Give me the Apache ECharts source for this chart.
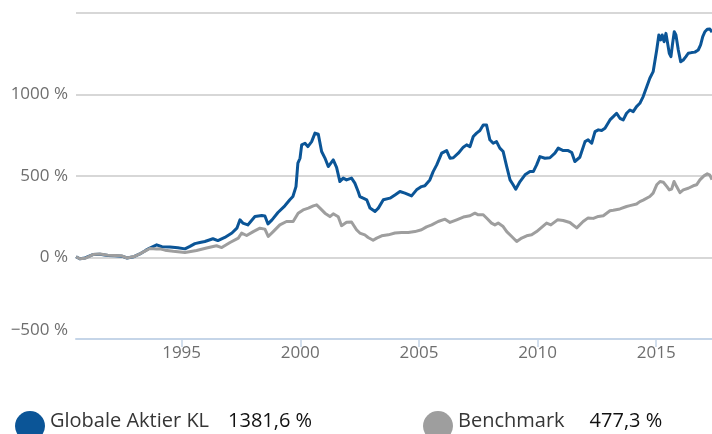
<!DOCTYPE html>
<html>
<head>
<meta charset="utf-8">
<style>
  html, body { margin: 0; padding: 0; background: #ffffff; }
  #chart { width: 712px; height: 434px; }
</style>
<script src="https://cdn.jsdelivr.net/npm/echarts@6/dist/echarts.min.js"></script>
</head>
<body>
<div id="chart"></div>
<script>
// Cumulative performance in %, dates as decimal years
const fundName = 'Globale Aktier KL';
const benchName = 'Benchmark';

const fundYears = [
  1990.55, 1990.71, 1990.93, 1991.26, 1991.56, 1991.89, 1992.19, 1992.48, 1992.70, 1992.99,
  1993.24, 1993.50, 1993.66, 1993.95, 1994.17, 1994.51, 1994.84, 1995.14, 1995.35, 1995.56,
  1995.77, 1995.98, 1996.32, 1996.53, 1996.82, 1997.12, 1997.33, 1997.46, 1997.58, 1997.79,
  1998.09, 1998.38, 1998.51, 1998.64, 1998.81, 1999.06, 1999.35, 1999.56, 1999.69, 1999.82,
  1999.90, 1999.99, 2000.06, 2000.20, 2000.32, 2000.48, 2000.62, 2000.76, 2000.90, 2001.04,
  2001.18, 2001.39, 2001.53, 2001.67, 2001.81, 2001.95, 2002.16, 2002.30, 2002.44, 2002.51,
  2002.65, 2002.80, 2002.94, 2003.15, 2003.29, 2003.50, 2003.78, 2003.99, 2004.20, 2004.41,
  2004.69, 2004.90, 2005.11, 2005.25, 2005.46, 2005.60, 2005.75, 2005.96, 2006.17, 2006.31,
  2006.45, 2006.66, 2006.87, 2007.01, 2007.15, 2007.29, 2007.43, 2007.57, 2007.71, 2007.85,
  2007.99, 2008.13, 2008.27, 2008.41, 2008.55, 2008.70, 2008.84, 2008.97, 2009.08, 2009.26,
  2009.47, 2009.68, 2009.82, 2009.96, 2010.10, 2010.31, 2010.52, 2010.73, 2010.87, 2011.08,
  2011.29, 2011.44, 2011.57, 2011.65, 2011.78, 2012.00, 2012.13, 2012.28, 2012.42, 2012.56,
  2012.70, 2012.84, 2013.05, 2013.19, 2013.33, 2013.47, 2013.61, 2013.75, 2013.89, 2014.03,
  2014.17, 2014.31, 2014.45, 2014.60, 2014.73, 2014.87, 2015.02, 2015.11, 2015.19, 2015.25,
  2015.33, 2015.41, 2015.48, 2015.55, 2015.62, 2015.69, 2015.76, 2015.83, 2015.93, 2016.03,
  2016.14, 2016.25, 2016.35, 2016.42, 2016.49, 2016.63, 2016.77, 2016.87, 2016.96, 2017.05,
  2017.15, 2017.26, 2017.35
];
const fundValues = [
  5, -8, -3, 18, 20, 12, 10, 8, -3, 5,
  22, 45, 58, 78, 66, 65, 60, 53, 68, 85,
  92, 98, 115, 104, 123, 150, 180, 231, 211, 200,
  251, 257, 255, 206, 231, 276, 317, 354, 374, 435,
  579, 609, 691, 701, 680, 711, 763, 756, 650, 610,
  558, 599, 553, 466, 487, 476, 487, 456, 405, 374,
  364, 354, 303, 282, 303, 354, 364, 384, 405, 395,
  378, 415, 435, 440, 476, 527, 568, 640, 656, 609,
  612, 640, 677, 691, 680, 742, 763, 779, 813, 813,
  722, 701, 711, 671, 650, 558, 476, 446, 419, 466,
  507, 527, 527, 568, 619, 609, 612, 640, 671, 656,
  656, 644, 589, 579, 615, 711, 722, 701, 772, 783,
  779, 793, 844, 864, 885, 854, 844, 885, 905, 895,
  926, 946, 987, 1048, 1100, 1140, 1273, 1365, 1335, 1365,
  1324, 1375, 1365, 1253, 1232, 1314, 1385, 1365, 1273, 1201,
  1212, 1232, 1253, 1263, 1257, 1260, 1273, 1304, 1355, 1385,
  1400, 1402, 1381.6
];

const benchYears = [
  1990.55, 1990.71, 1990.93, 1991.26, 1991.56, 1991.89, 1992.19, 1992.48, 1992.70, 1992.99,
  1993.24, 1993.53, 1993.66, 1993.95, 1994.09, 1994.30, 1994.65, 1995.14, 1995.63, 1996.05,
  1996.47, 1996.69, 1997.04, 1997.39, 1997.53, 1997.74, 1998.02, 1998.30, 1998.51, 1998.65,
  1998.86, 1999.14, 1999.42, 1999.70, 1999.91, 2000.12, 2000.34, 2000.55, 2000.69, 2000.83,
  2001.04, 2001.25, 2001.39, 2001.60, 2001.74, 2001.95, 2002.16, 2002.37, 2002.51, 2002.72,
  2002.86, 2003.07, 2003.22, 2003.43, 2003.71, 2003.99, 2004.27, 2004.55, 2004.83, 2005.11,
  2005.32, 2005.54, 2005.81, 2006.10, 2006.31, 2006.59, 2006.87, 2007.15, 2007.36, 2007.50,
  2007.71, 2007.85, 2008.06, 2008.20, 2008.34, 2008.55, 2008.70, 2008.91, 2009.12, 2009.33,
  2009.54, 2009.75, 2009.96, 2010.17, 2010.38, 2010.56, 2010.84, 2011.08, 2011.36, 2011.65,
  2011.92, 2012.13, 2012.35, 2012.56, 2012.77, 2013.05, 2013.19, 2013.47, 2013.75, 2013.89,
  2014.17, 2014.31, 2014.45, 2014.73, 2014.87, 2015.02, 2015.16, 2015.30, 2015.45, 2015.55,
  2015.65, 2015.75, 2015.86, 2016.00, 2016.14, 2016.35, 2016.56, 2016.70, 2016.84, 2017.01,
  2017.15, 2017.26, 2017.35
];
const benchValues = [
  5, -8, -5, 18, 22, 14, 12, 10, -3, 6,
  22, 45, 55, 52, 53, 45, 38, 31, 43, 58,
  72, 61, 92, 119, 150, 135, 159, 180, 174, 129,
  159, 200, 221, 221, 272, 292, 303, 317, 323, 303,
  272, 251, 268, 250, 195, 216, 218, 170, 150, 139,
  123, 106, 119, 133, 139, 150, 153, 153, 159, 170,
  188, 200, 221, 235, 215, 231, 248, 256, 272, 262,
  262, 242, 211, 200, 211, 190, 159, 129, 98, 119,
  133, 139, 159, 185, 211, 200, 231, 227, 215, 182,
  221, 243, 240, 252, 256, 287, 290, 298, 313, 318,
  328, 343, 352, 374, 395, 446, 466, 462, 435, 415,
  420, 466, 435, 398, 415, 425, 440, 446, 476, 501,
  513, 505, 477.3
];

const yearTicks = [1995, 2000, 2005, 2010, 2015];
const valueTicks = [-500, 0, 500, 1000, 1500];

const FONT = '"Open Sans", "DejaVu Sans", sans-serif';
const FUND_COLOR = '#0b5597';
const BENCH_COLOR = '#9e9e9e';
const AXIS_TEXT = '#6e6e6e';

function pairs(xs, ys) {
  return xs.map((x, i) => [x, ys[i]]);
}
function pct(v) {
  return v.toFixed(1).replace('.', ',') + ' %';
}
function axisPct(v) {
  return (v < 0 ? '\u2212' + Math.abs(v) : String(v)) + ' %';
}

const fundLast = fundValues[fundValues.length - 1];
const benchLast = benchValues[benchValues.length - 1];

// legend text sits a little above the centre of the large round markers
const legendRich = {
  n: { fontFamily: FONT, fontSize: 20, color: '#363636', padding: [0, 0, 10, 0] },
  v1: { fontFamily: FONT, fontSize: 20, color: '#111111', padding: [0, 0, 10, 19] },
  v2: { fontFamily: FONT, fontSize: 20, color: '#111111', padding: [0, 0, 10, 25] }
};

const chart = echarts.init(document.getElementById('chart'), null, { renderer: 'canvas' });

chart.setOption({
  animation: false,
  backgroundColor: '#ffffff',
  grid: { left: 76, right: 0, top: 13, bottom: 95, containLabel: false },
  xAxis: {
    type: 'value',
    min: fundYears[0],
    max: fundYears[fundYears.length - 1],
    axisLine: { show: true, onZero: false, lineStyle: { color: '#c5d5e8', width: 2 } },
    axisTick: { show: true, customValues: yearTicks, length: 8, lineStyle: { color: '#c5d5e8', width: 1.5 } },
    axisLabel: {
      customValues: yearTicks,
      formatter: v => String(Math.round(v)),
      color: AXIS_TEXT,
      fontFamily: FONT,
      fontSize: 17,
      margin: 6
    },
    splitLine: { show: false }
  },
  yAxis: {
    type: 'value',
    min: valueTicks[0],
    max: valueTicks[valueTicks.length - 1],
    interval: 500,
    axisLine: { show: false },
    axisTick: { show: false },
    axisLabel: {
      formatter: v => {
        if (v === valueTicks[valueTicks.length - 1]) return '';
        if (v === valueTicks[0]) return '{low|' + axisPct(v) + '}';
        return axisPct(v);
      },
      rich: { low: { fontFamily: FONT, fontSize: 17, color: AXIS_TEXT, padding: [0, 0, 18, 0] } },
      color: AXIS_TEXT,
      fontFamily: FONT,
      fontSize: 17,
      margin: 8
    },
    splitLine: { show: true, lineStyle: { color: '#cacaca', width: 1.5 } }
  },
  legend: [
    {
      data: [fundName],
      left: 10,
      top: 406,
      icon: 'circle',
      itemWidth: 30,
      itemHeight: 30,
      selectedMode: false,
      formatter: name => '{n|' + name + '}{v1|' + pct(fundLast) + '}',
      textStyle: { rich: legendRich }
    },
    {
      data: [benchName],
      left: 418,
      top: 406,
      icon: 'circle',
      itemWidth: 30,
      itemHeight: 30,
      selectedMode: false,
      formatter: name => '{n|' + name + '}{v2|' + pct(benchLast) + '}',
      textStyle: { rich: legendRich }
    }
  ],
  series: [
    {
      name: fundName,
      type: 'line',
      data: pairs(fundYears, fundValues),
      showSymbol: false,
      symbol: 'none',
      lineStyle: { color: FUND_COLOR, width: 3, join: 'round' },
      itemStyle: { color: FUND_COLOR },
      z: 3
    },
    {
      name: benchName,
      type: 'line',
      data: pairs(benchYears, benchValues),
      showSymbol: false,
      symbol: 'none',
      lineStyle: { color: BENCH_COLOR, width: 3, join: 'round' },
      itemStyle: { color: BENCH_COLOR },
      z: 4
    }
  ]
});
</script>
</body>
</html>
